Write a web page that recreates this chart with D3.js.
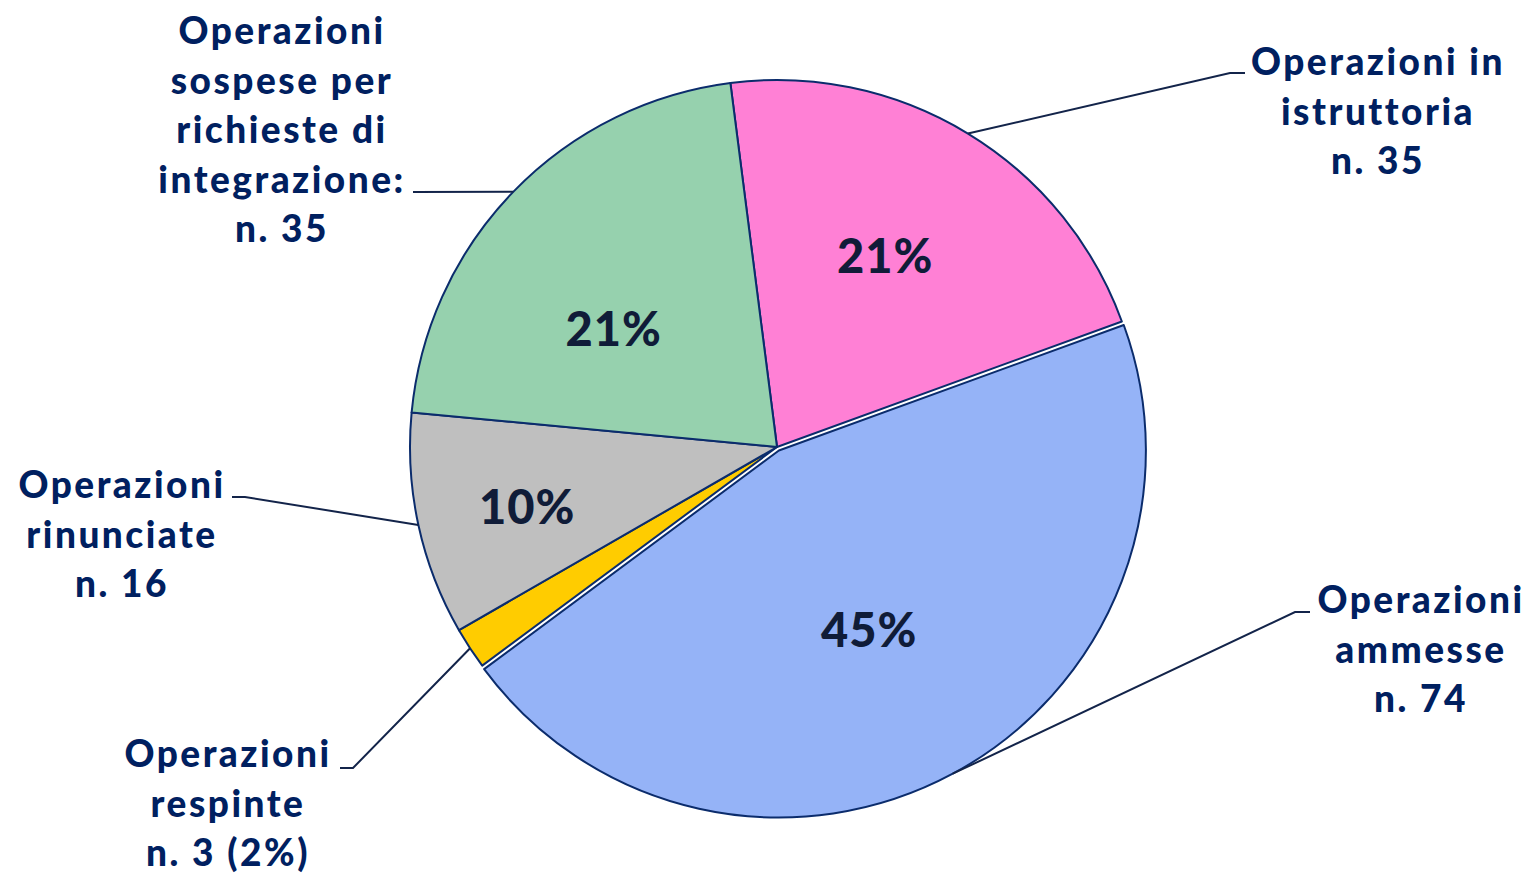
<!DOCTYPE html>
<html>
<head>
<meta charset="utf-8">
<script src="https://cdnjs.cloudflare.com/ajax/libs/d3/7.8.5/d3.min.js"></script>
<style>
  body { margin: 0; background: #fff; }
  svg { display: block; }
</style>
</head>
<body>
<div id="main"></div>
<script>
// slice data, in drawing order (clockwise from the top)
const CATEGORIES = ["istruttoria", "ammesse", "respinte", "rinunciate", "sospese"];
const COUNTS = [35, 74, 3, 16, 35];
const PERCENT_LABELS = ["21%", "45%", "", "10%", "21%"];
const NAME_LABELS = [
    ["Operazioni in", "istruttoria", "n. 35"],
    ["Operazioni", "ammesse", "n. 74"],
    ["Operazioni", "respinte", "n. 3 (2%)"],
    ["Operazioni", "rinunciate", "n. 16"],
    ["Operazioni", "sospese per", "richieste di", "integrazione:", "n. 35"]
];
const COLORS = ["#FF80D5", "#95B3F7", "#FFCC00", "#BFBFBF", "#96D1AE"];

const ctx = {
    w: 1536,
    h: 876,
    cx: 777,
    cy: 447,
    r: 367,
    START: -7.3 * Math.PI / 180,
    STROKE: "#0B2C6C",
    LABEL: "#002060",
    PCT: "#101C38",
    LINE_H: 49.5,
    FONT: "Lato, 'Open Sans', sans-serif",
};

// callout layout: text block centre x, first baseline y, elbow point,
// percentage label radius fraction and angle offset (degrees)
const LAYOUT = {
    istruttoria: { tx: 1378, ty: 75, elbow: [1230, 73], end: [1245, 73], pr: 0.598, pa: -1.8, explode: 0 },
    ammesse: { tx: 1421, ty: 613, elbow: [1295, 612], end: [1310, 612], pr: 0.558, pa: 1.5, explode: 4 },
    respinte: { tx: 228, ty: 767, elbow: [353, 768], end: [340, 768], pr: 0.6, pa: 0, explode: 0 },
    rinunciate: { tx: 122, ty: 498, elbow: [245, 497], end: [232, 497], pr: 0.70, pa: -1.2, explode: 0 },
    sospese: { tx: 282, ty: 44, elbow: [415, 192], end: [413, 192], pr: 0.548, pa: -8.3, explode: 0 },
};

function labelAngle(d, i) {
    return (d.startAngle + d.endAngle) / 2 + LAYOUT[CATEGORIES[i]].pa * Math.PI / 180;
}

function createViz() {
    let svgEl = d3.select("#main").append("svg")
        .attr("width", ctx.w)
        .attr("height", ctx.h);

    let pie = d3.pie()
        .sort(null)
        .startAngle(ctx.START)
        .endAngle(ctx.START + 2 * Math.PI);
    let arcs = pie(COUNTS);
    let arc = d3.arc().innerRadius(0).outerRadius(ctx.r);

    let pieG = svgEl.append("g")
        .attr("transform", `translate(${ctx.cx},${ctx.cy})`);

    // slices
    pieG.selectAll("path")
        .data(arcs)
        .enter()
        .append("path")
        .attr("transform", function (d, i) {
            let lay = LAYOUT[CATEGORIES[i]];
            let a = (d.startAngle + d.endAngle) / 2;
            return `translate(${lay.explode * Math.sin(a)},${-lay.explode * Math.cos(a)})`;
        })
        .attr("d", arc)
        .attr("fill", (d, i) => COLORS[i])
        .attr("stroke", ctx.STROKE)
        .attr("stroke-width", 2)
        .attr("stroke-linejoin", "round");

    // percentage labels
    pieG.selectAll("text.pct")
        .data(arcs)
        .enter()
        .append("text")
        .attr("class", "pct")
        .attr("x", (d, i) => LAYOUT[CATEGORIES[i]].pr * ctx.r * Math.sin(labelAngle(d, i)))
        .attr("y", (d, i) => -LAYOUT[CATEGORIES[i]].pr * ctx.r * Math.cos(labelAngle(d, i)))
        .attr("dy", "0.36em")
        .attr("text-anchor", "middle")
        .style("font-family", ctx.FONT)
        .style("font-weight", 900)
        .style("font-size", "47px")
        .style("letter-spacing", "1px")
        .style("fill", ctx.PCT)
        .text((d, i) => PERCENT_LABELS[i]);

    // leader lines and category labels
    arcs.forEach(function (d, i) {
        let lay = LAYOUT[CATEGORIES[i]];
        let a = (d.startAngle + d.endAngle) / 2;
        let rr = ctx.r + lay.explode;
        let p0 = [ctx.cx + rr * Math.sin(a), ctx.cy - rr * Math.cos(a)];
        svgEl.append("polyline")
            .attr("points", [p0, lay.elbow, lay.end].map((p) => p.join(",")).join(" "))
            .attr("fill", "none")
            .attr("stroke", "#13244A")
            .attr("stroke-width", 2);

        let t = svgEl.append("text")
            .attr("text-anchor", "middle")
            .style("font-family", ctx.FONT)
            .style("font-weight", 900)
            .style("font-size", "37px")
            .style("letter-spacing", "2.5px")
            .style("fill", ctx.LABEL);
        NAME_LABELS[i].forEach(function (line, j) {
            t.append("tspan")
                .attr("x", lay.tx)
                .attr("y", lay.ty + j * ctx.LINE_H)
                .text(line);
        });
    });
}

createViz();
</script>
</body>
</html>
